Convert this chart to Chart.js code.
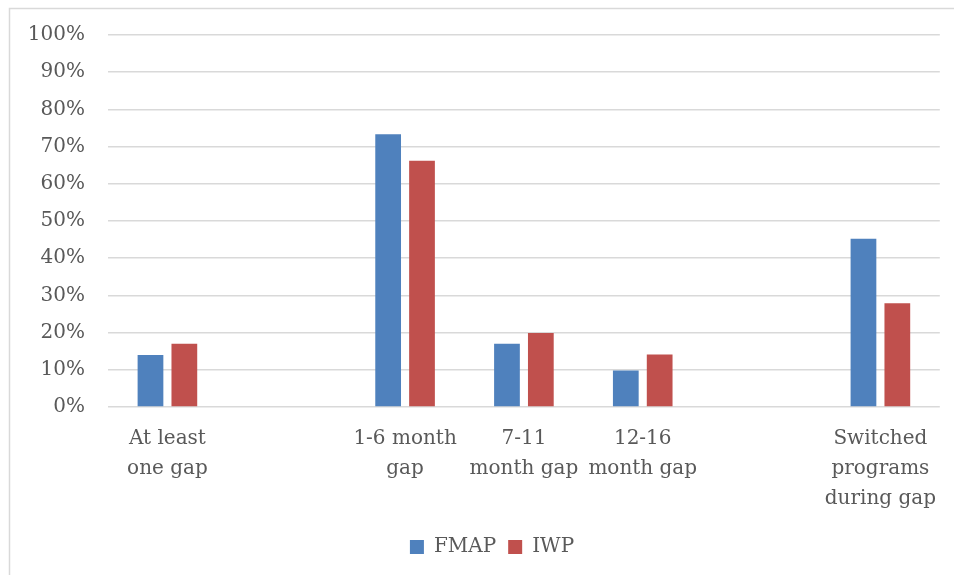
<!DOCTYPE html>
<html>
<head>
<meta charset="utf-8">
<title>Coverage gaps</title>
<script src="https://cdn.jsdelivr.net/npm/chart.js@4/dist/chart.umd.min.js"></script>
<style>
  html, body { margin: 0; padding: 0; background: #fff; overflow: hidden; }
  #wrap { position: relative; width: 954px; height: 575px; }
</style>
</head>
<body>
<div id="wrap"><canvas id="myChart" width="954" height="575"></canvas></div>
<script>
// categories (blank slots keep the wider spacing of the original)
const categories = [
    ['At least', 'one gap'],
    '',
    ['1-6 month', 'gap'],
    ['7-11', 'month gap'],
    ['12-16', 'month gap'],
    '',
    ['Switched', 'programs', 'during gap']
];
const fmapValues = [0.14, null, 0.733, 0.17, 0.098, null, 0.452];
const iwpValues = [0.17, null, 0.662, 0.199, 0.141, null, 0.279];
const yTicks = [0, 0.1, 0.2, 0.3, 0.4, 0.5, 0.6, 0.7, 0.8, 0.9, 1];

const textColor = '#595959';
const fontFamily = '"DejaVu Serif", serif';

// light frame round the chart like the original, legend nudged right
const framePlugin = {
    id: 'frame',
    afterLayout(chart) {
        chart.legend.left += 22;
        chart.legend.right += 22;
    },
    beforeDraw(chart) {
        const ctx = chart.ctx;
        ctx.save();
        ctx.fillStyle = '#fff';
        ctx.fillRect(0, 0, chart.width, chart.height);
        ctx.strokeStyle = '#d9d9d9';
        ctx.lineWidth = 1.5;
        ctx.beginPath();
        ctx.moveTo(9.5, chart.height + 5);
        ctx.lineTo(9.5, 8.5);
        ctx.lineTo(chart.width + 5, 8.5);
        ctx.stroke();
        ctx.restore();
    }
};

const ctx = document.getElementById('myChart').getContext('2d');
const myChart = new Chart(ctx, {
    type: 'bar',
    data: {
        labels: categories,
        datasets: [{
            label: 'FMAP',
            data: fmapValues,
            backgroundColor: '#4F81BD',
            borderWidth: 0
        }, {
            label: 'IWP',
            data: iwpValues,
            backgroundColor: '#C0504D',
            borderWidth: 0
        }]
    },
    options: {
        responsive: false,
        animation: false,
        layout: {
            padding: { top: 31, right: 14, bottom: 8, left: 0 }
        },
        datasets: {
            bar: { categoryPercentage: 0.57, barPercentage: 0.76 }
        },
        scales: {
            x: {
                grid: { display: false, drawTicks: false },
                border: { display: false },
                ticks: {
                    color: textColor,
                    font: { family: fontFamily, size: 20, lineHeight: 1.5 },
                    padding: 17,
                    maxRotation: 0,
                    autoSkip: false
                },
                afterFit(scale) { scale.height = 118; }
            },
            y: {
                min: 0,
                max: 1,
                afterBuildTicks(scale) {
                    scale.ticks = yTicks.map(v => ({ value: v }));
                },
                grid: { color: '#d9d9d9', lineWidth: 1.5, drawTicks: false },
                border: { display: false },
                ticks: {
                    color: textColor,
                    font: { family: fontFamily, size: 20 },
                    padding: 23,
                    callback: v => Math.round(v * 100) + '%'
                },
                afterFit(scale) { scale.width = 108; }
            }
        },
        plugins: {
            legend: {
                position: 'bottom',
                labels: {
                    color: textColor,
                    font: { family: fontFamily, size: 20 },
                    boxWidth: 14,
                    boxHeight: 14,
                    padding: 12
                }
            },
            tooltip: { enabled: false }
        }
    },
    plugins: [framePlugin]
});
</script>
</body>
</html>
